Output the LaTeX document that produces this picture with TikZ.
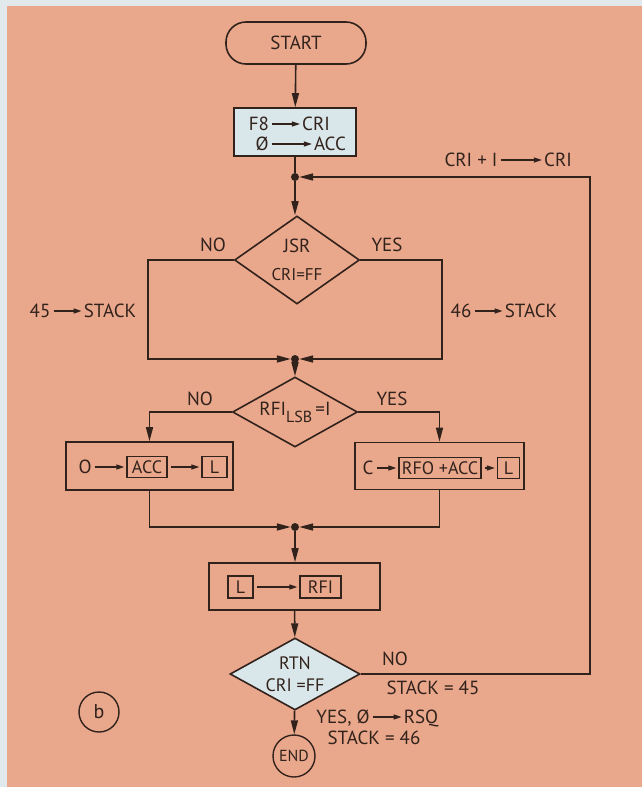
\documentclass[tikz,border=0pt]{standalone}
\usepackage{fontspec}
\setmainfont{PT Sans}
\usetikzlibrary{shapes.geometric,arrows.meta}
\definecolor{bgc}{RGB}{233,168,140}
\definecolor{edgec}{RGB}{226,233,236}
\definecolor{ink}{RGB}{50,34,28}
\definecolor{pale}{RGB}{218,231,234}
\begin{document}
\begin{tikzpicture}[x=1pt,y=-1pt,
  every node/.style={font=\fontsize{19}{22}\selectfont, text=ink, inner sep=0pt},
  txt/.style={text height=13pt, text depth=0pt},
  line/.style={draw=ink, line width=1.6pt},
  flow/.style={line, -{Triangle[length=14pt,width=7pt]}},
  small/.style={draw=ink, line width=1.2pt, -{Triangle[length=8pt,width=5pt]}, shorten >=2pt, shorten <=3pt},
  procbox/.style={draw=ink, line width=1.6pt, rectangle},
  regbox/.style={draw=ink, line width=1.3pt, rectangle, minimum height=21pt, txt, font=\fontsize{18}{20}\selectfont},
  decision/.style={draw=ink, line width=1.6pt, diamond, align=center},
  junction/.style={circle, fill=ink, minimum size=8pt, inner sep=0pt},
  ringnode/.style={circle, draw=ink, line width=1.4pt}
]
\fill[edgec] (0,0) rectangle (642,787);
\fill[bgc] (7,6) rectangle (642,787);
\useasboundingbox (0,0) rectangle (642,787);

% main nodes
\node[procbox, rounded corners=20pt, minimum width=140pt, minimum height=42pt, txt] (start) at (296,43) {START};
\node[procbox, fill=pale, minimum width=122pt, minimum height=48pt] (init) at (295,132) {};
\node[txt] (f8) at (259,124) {F8};
\node[txt] (cria) at (316,124) {CRI};
\node[txt] (zero) at (262,144) {Ø};
\node[txt] (acca) at (330,144) {ACC};
\draw[small] (f8) -- (cria);
\draw[small] (zero) -- (acca);

\node[junction] (j1) at (295,177) {};
\node[decision, aspect=1.5, minimum width=125pt, minimum height=88pt] (jsr) at (297,260)
  {JSR\\[6pt]{\fontsize{17}{19}\selectfont CRI=FF}};
\node[junction] (j2) at (295,359) {};
\coordinate (jl) at (148,359);
\coordinate (jr) at (442,359);

\node[decision, aspect=2.5, minimum width=125pt, minimum height=70pt] (rfi) at (295,412)
  {RFI\raisebox{-7pt}{\fontsize{16}{16}\selectfont LSB}\,=I};

\node[procbox, minimum width=167pt, minimum height=48pt] (lbox) at (149.5,466) {};
\node[txt] (ozero) at (85,467) {O};
\node[regbox, minimum width=40pt] (accb) at (147,467) {ACC};
\node[regbox, minimum width=25pt] (lb1) at (214.5,467) {L};
\draw[small] (ozero) -- (accb);
\draw[small] (accb) -- (lb1);

\node[procbox, minimum width=169pt, minimum height=47pt] (rbox) at (439.5,466) {};
\node[txt] (cc) at (368,468) {C};
\node[regbox, minimum width=82pt] (rfo) at (440,468) {RFO +ACC};
\node[regbox, minimum width=22pt] (lb2) at (508.5,468) {L};
\draw[small] (cc) -- (rfo);
\draw[small] (rfo) -- (lb2);

\node[junction] (j3) at (295,527) {};

\node[procbox, minimum width=171pt, minimum height=47pt] (copy) at (294.5,586.5) {};
\node[regbox, minimum width=25pt, minimum height=22pt] (lb3) at (240.5,587) {L};
\node[regbox, minimum width=41pt, minimum height=22pt] (rfib) at (320.5,587) {RFI};
\draw[small] (lb3) -- (rfib);

\node[decision, aspect=1.8, fill=pale, minimum width=130pt, minimum height=72pt, font=\fontsize{18}{22}\selectfont] (rtn) at (295,674)
  {RTN\\CRI =FF};
\node[ringnode, minimum size=42pt, font=\fontsize{16}{16}\selectfont] (endn) at (294,756) {END};
\coordinate (loopc) at (590,674);

\node[ringnode, minimum size=40pt, font=\fontsize{20}{20}\selectfont] (bmark) at (99,712) {b};

% labels
\node[txt] (no1) at (213,245) {NO};
\node[txt] (yes1) at (387,245) {YES};
\node[txt] (n45) at (40,311) {45};
\node[txt] (st45) at (110,311) {STACK};
\draw[small] (n45) -- (st45);
\node[txt] (n46) at (461,311) {46};
\node[txt] (st46) at (531,311) {STACK};
\draw[small] (n46) -- (st46);
\node[txt] (no2) at (200,399) {NO};
\node[txt] (yes2) at (392,399) {YES};
\node[txt] (incl) at (471,160) {CRI + I};
\node[txt] (incr) at (558,160) {CRI};
\draw[small] (incl) -- (incr);
\node[txt] (no3) at (395,659) {NO};
\node[txt] (st45b) at (433,688) {STACK = 45};
\node[txt] (yes3) at (334,717) {YES,};
\node[txt] (zero2) at (363,717) {Ø};
\node[txt] (rsq) at (421,717) {RSQ};
\draw[small] (zero2) -- (rsq);
\node[txt] (st46b) at (374,738) {STACK = 46};

% connectors
\draw[flow] (start) -- (init);
\draw[line] (init.south) -- (j1);
\draw[flow] (j1) -- (j1 |- jsr.north);
\draw[flow] (jsr.west) -| (jl) -- (j2);
\draw[flow] (jsr.east) -| (jr) -- (j2);
\draw[flow] (j2) -- (rfi);
\draw[flow] (rfi.west) -| (lbox.north);
\draw[flow] (rfi.east) -| (rbox.north);
\draw[flow] (lbox.south) |- (j3);
\draw[flow] (rbox.south) |- (j3);
\draw[flow] (j3) -- (j3 |- copy.north);
\draw[flow] (copy) -- (rtn);
\draw[flow] (rtn) -- (endn);
\draw[flow] (rtn.east) -- (loopc) |- (j1);
\end{tikzpicture}
\end{document}
